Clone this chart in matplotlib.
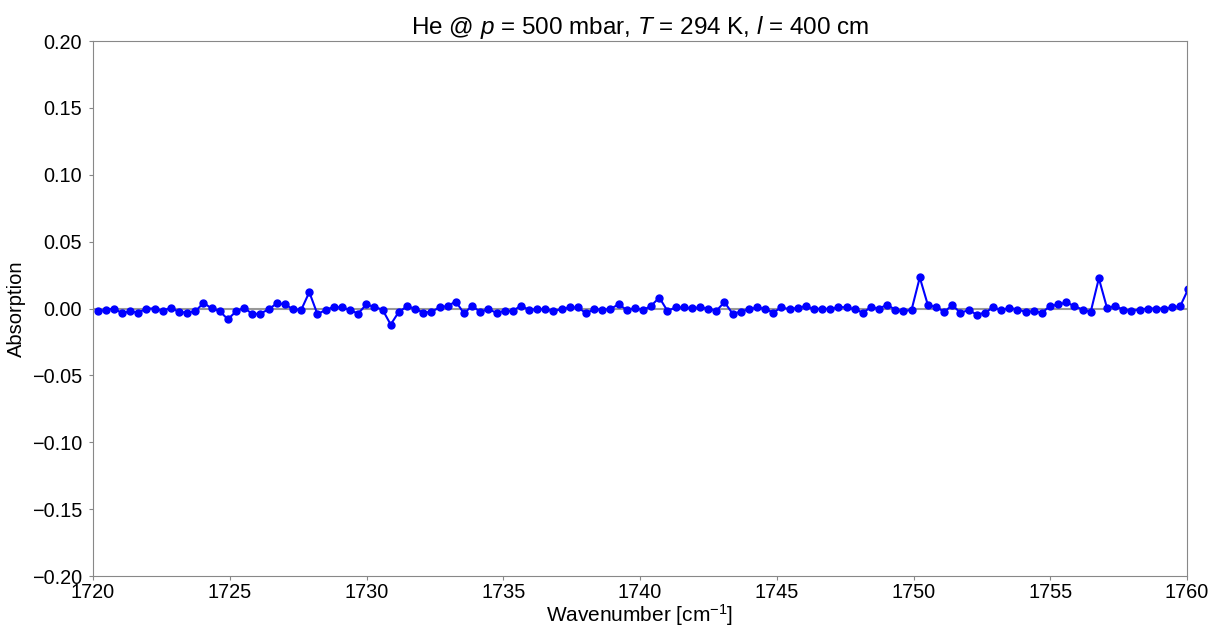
import numpy as np
import matplotlib
matplotlib.use("Agg")
import matplotlib.pyplot as plt

plt.rcParams['font.family'] = ['Liberation Sans', 'DejaVu Sans']
plt.rcParams['mathtext.fontset'] = 'custom'
plt.rcParams['mathtext.rm'] = 'Liberation Sans'
plt.rcParams['mathtext.it'] = 'Liberation Sans:italic'

# wavenumber grid of the spectrum (uniform sampling)
wn_start = 1720.17
wn_step = 0.2976

# absorption, one value per sample
absorption = [
    -0.0022, -0.0011, 0.0000, -0.0034, -0.0021, -0.0031, 0.0000, 0.0000, -0.0018, 0.0006,
    -0.0027, -0.0030, -0.0021, 0.0042, 0.0001, -0.0021, -0.0080, -0.0022, 0.0006, -0.0042,
    -0.0038, -0.0006, 0.0038, 0.0032, -0.0006, -0.0011, 0.0122, -0.0042, -0.0011, 0.0012,
    0.0008, -0.0011, -0.0038, 0.0030, 0.0012, -0.0009, -0.0120, -0.0025, 0.0015, 0.0000,
    -0.0031, -0.0025, 0.0008, 0.0019, 0.0052, -0.0036, 0.0019, -0.0025, -0.0005, -0.0032,
    -0.0018, -0.0018, 0.0021, -0.0010, -0.0006, -0.0006, -0.0019, -0.0005, 0.0009, 0.0008,
    -0.0035, -0.0005, -0.0011, -0.0004, 0.0032, -0.0011, 0.0003, -0.0012, 0.0020, 0.0082,
    -0.0018, 0.0008, 0.0008, 0.0002, 0.0008, 0.0000, -0.0018, 0.0048, -0.0038, -0.0025,
    -0.0005, 0.0008, -0.0002, -0.0030, 0.0008, -0.0005, 0.0005, 0.0018, -0.0005, 0.0000,
    -0.0005, 0.0012, 0.0008, -0.0005, -0.0030, 0.0008, 0.0000, 0.0028, -0.0010, -0.0022,
    -0.0008, 0.0232, 0.0025, 0.0012, -0.0025, 0.0025, -0.0032, -0.0012, -0.0045, -0.0032,
    0.0008, -0.0012, 0.0005, -0.0008, -0.0025, -0.0020, -0.0032, 0.0018, 0.0030, 0.0045,
    0.0018, -0.0008, -0.0025, 0.0225, 0.0005, 0.0018, -0.0008, -0.0018, -0.0008, 0.0000,
    0.0000, 0.0000, 0.0008, 0.0018, 0.0148,
]
wavenumber = wn_start + wn_step * np.arange(len(absorption))

title = r"He @ $p$ = 500 mbar, $T$ = 294 K, $l$ = 400 cm"

fig = plt.figure(figsize=(12.19, 6.28), dpi=100)
ax = fig.add_axes([0.0763, 0.0828, 0.8975, 0.8519])

ax.axhline(0, color='#999999', lw=1.5, zorder=1)
ax.plot(wavenumber, absorption, '-o', color='#0000ff', ms=5, lw=1.5, zorder=2)

ax.set_xlim(1720, 1760)
ax.set_ylim(-0.2, 0.2)
ax.set_xticks(np.arange(1720, 1761, 5))
ax.set_yticks(np.arange(-0.2, 0.201, 0.05))
ax.set_yticklabels(['\u22120.20', '\u22120.15', '\u22120.10', '\u22120.05', '0.00',
                    '0.05', '0.10', '0.15', '0.20'])

ax.tick_params(direction='out', length=3, labelsize=14.3, color='#888888')
ax.tick_params(axis='x', pad=2)
ax.tick_params(axis='y', pad=5)
for s in ax.spines.values():
    s.set_color('#888888')

ax.set_xlabel(r"Wavenumber [cm$^{-1}$]", fontsize=15, labelpad=0)
ax.set_ylabel("Absorption", fontsize=14.5, labelpad=4)
ax.set_title(title, fontsize=17.5, pad=4)

fig.savefig("out.png", dpi=100)
